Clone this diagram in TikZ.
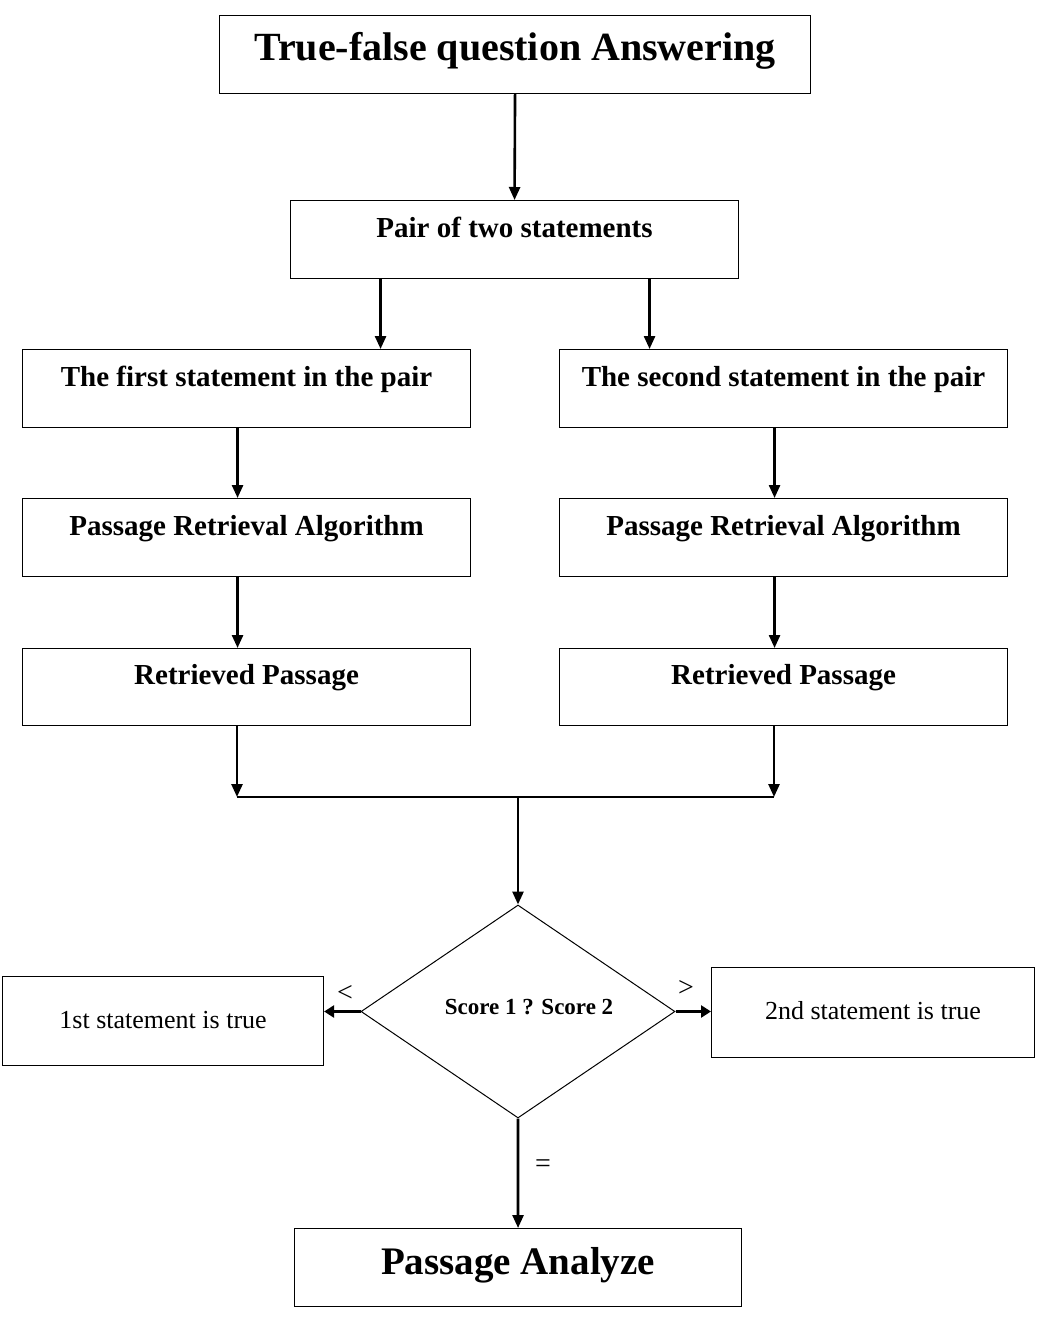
\documentclass[tikz,border=0pt]{standalone}
\usepackage{fontspec}
\setmainfont{Liberation Serif}
\usetikzlibrary{arrows.meta,shapes.geometric}
\begin{document}
\begin{tikzpicture}[x=1pt,y=-1pt,
  basebox/.style={draw,line width=1.1pt,inner xsep=0pt,inner ysep=0pt,anchor=north west},
  midbox/.style={basebox,minimum width=448pt,text height=37pt,text depth=41pt,
    font=\bfseries\fontsize{29}{29}\selectfont},
  arr/.style={line width=2.6pt,-{Triangle[width=11pt,length=13pt]}},
  arrs/.style={line width=3.2pt,-{Triangle[width=12pt,length=10pt]}},
  thinline/.style={line width=1.3pt},
  lbl/.style={font=\fontsize{28}{28}\selectfont,inner sep=0pt}]
\useasboundingbox (0,0) rectangle (1044,1326);
\fill[white] (0,0) rectangle (1044,1326);

\node[basebox,minimum width=591pt,text height=45pt,text depth=33pt,
  font=\bfseries\fontsize{40}{40}\selectfont] (title) at (219,15) {True-false question Answering};
\node[midbox] (pair) at (290,200) {Pair of two statements};
\node[midbox] (first) at (22,349) {The first statement in the pair};
\node[midbox] (second) at (559,349) {The second statement in the pair};
\node[midbox] (pra1) at (22,498) {Passage Retrieval Algorithm};
\node[midbox] (pra2) at (559,498) {Passage Retrieval Algorithm};
\node[midbox,text height=36pt,text depth=41pt] (ret1) at (22,648) {Retrieved Passage};
\node[midbox,text height=36pt,text depth=41pt] (ret2) at (559,648) {Retrieved Passage};

\node[diamond,draw,line width=1pt,inner sep=0pt,minimum width=314pt,minimum height=213pt] (dec) at (518,1011.5) {};
\node[font=\bfseries\fontsize{23}{23}\selectfont,inner sep=0pt,anchor=base] (score) at (529,1014) {Score 1 ? Score 2};

\node[basebox,minimum width=321pt,text height=52pt,text depth=37pt,
  font=\fontsize{26}{26}\selectfont] (left) at (2,976) {1st statement is true};
\node[basebox,minimum width=323pt,text height=52pt,text depth=38pt,
  font=\fontsize{26}{26}\selectfont] (right) at (711,967) {2nd statement is true};
\node[basebox,minimum width=447pt,text height=46pt,text depth=32pt,
  font=\bfseries\fontsize{39}{39}\selectfont] (final) at (294,1228) {Passage Analyze};

\coordinate (j1) at (237,797);
\coordinate (j2) at (774,797);
\coordinate (jm) at (dec.north |- j1);

\draw[arr] (title.south) -- (pair.north);
\draw[arr] ([xshift=-134pt]pair.south) -- ([xshift=-134pt]pair.south |- first.north);
\draw[arr] ([xshift=135pt]pair.south) -- ([xshift=135pt]pair.south |- second.north);
\draw[arr] ([xshift=-9pt]first.south) -- ([xshift=-9pt]pra1.north);
\draw[arr] ([xshift=-9pt]second.south) -- ([xshift=-9pt]pra2.north);
\draw[arr] ([xshift=-9pt]pra1.south) -- ([xshift=-9pt]ret1.north);
\draw[arr] ([xshift=-9pt]pra2.south) -- ([xshift=-9pt]ret2.north);
\draw[arr] (ret1.south -| j1) -- (j1);
\draw[arr] (ret2.south -| j2) -- (j2);
\draw[thinline] (j1) -- (j2);
\draw[arr] (jm) -- (dec.north);
\draw[arrs] (dec.west) -- (left.east |- dec.west);
\draw[arrs] (dec.east) -- (right.west |- dec.east);
\draw[arr] (dec.south) -- (final.north);

\node[lbl] (lt) at (345,993) {<};
\node[lbl] (gt) at (686,988) {>};
\node[lbl] (eq) at (543,1166) {=};
\end{tikzpicture}
\end{document}
